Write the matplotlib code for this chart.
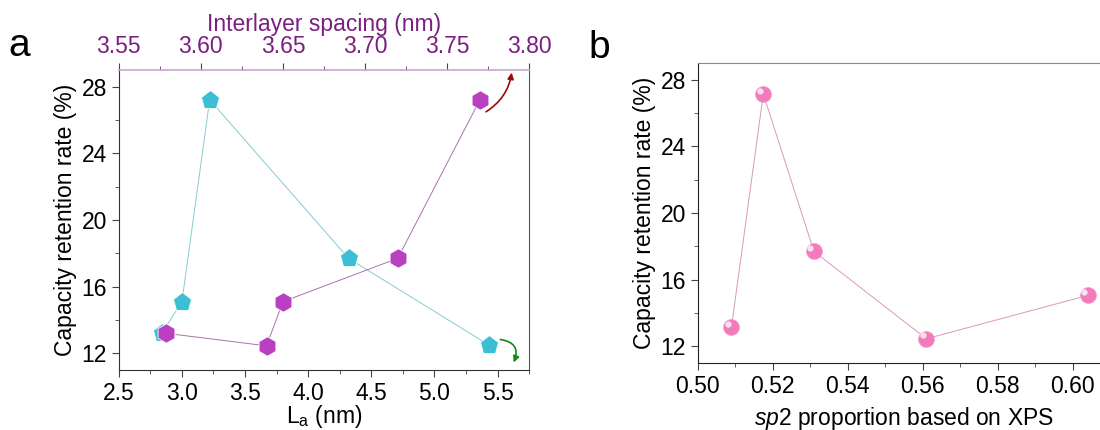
import numpy as np
import matplotlib
matplotlib.use("Agg")
import matplotlib.pyplot as plt
from matplotlib.ticker import MultipleLocator, FormatStrFormatter
from matplotlib.patches import FancyArrowPatch
from matplotlib.transforms import ScaledTranslation

plt.rcParams["font.family"] = ["Liberation Sans", "DejaVu Sans"]
plt.rcParams["mathtext.fontset"] = "custom"
plt.rcParams["mathtext.rm"] = "Liberation Sans"
plt.rcParams["mathtext.it"] = "Liberation Sans:italic"

# data
retention = [13.2, 15.1, 27.2, 17.7, 12.5]          # capacity retention rate (%)
la_nm = [2.84, 3.00, 3.22, 4.32, 5.43]               # L_a (nm), bottom axis
spacing_ret = [13.2, 12.45, 15.1, 17.7, 27.2]        # retention for spacing series
spacing_nm = [3.579, 3.640, 3.650, 3.720, 3.770]     # interlayer spacing (nm), top axis
sp2_frac = [0.509, 0.5175, 0.531, 0.561, 0.604]      # sp2 proportion
sp2_ret = [13.15, 27.15, 17.7, 12.45, 15.05]

# colours
cyan = '#3bbfd5'
cyan_line = '#86cbd2'
magenta = '#b940c1'
mag_line = '#a874ad'
purple_txt = '#7a1f80'
pink = '#f27cbb'
pink_line = '#dc98b6'

fig = plt.figure(figsize=(11, 4.3), dpi=100)
fs = 16.5

# ---- panel a
ax = fig.add_axes([0.108, 0.1395, 0.373, 0.698])
ax.plot(la_nm, retention, color=cyan_line, lw=0.7, zorder=2)
ax.plot(la_nm, retention, ls='none', marker='p', ms=14, color=cyan, mec='white', mew=0.6, zorder=3)
ax.set_xlim(2.5, 5.75)
ax.set_ylim(11, 29)
ax.xaxis.set_major_locator(MultipleLocator(0.5))
ax.xaxis.set_minor_locator(MultipleLocator(0.25))
ax.yaxis.set_major_locator(MultipleLocator(4))
ax.yaxis.set_minor_locator(MultipleLocator(2))
ax.tick_params(which='both', direction='out', labelsize=fs, top=False, right=False, color='#444444')
ax.tick_params(which='major', length=5)
ax.tick_params(which='minor', length=3)
ax.set_xlabel(r'L$_{\mathrm{a}}$ (nm)', fontsize=fs, labelpad=-1)
ax.set_ylabel('Capacity retention rate (%)', fontsize=fs, labelpad=3)
for s in ['left', 'bottom']:
    ax.spines[s].set_color('#333333')
ax.spines['right'].set_color('#555555')
ax.spines['top'].set_visible(False)

top = ax.twiny()
top.plot(spacing_nm, spacing_ret, color=mag_line, lw=0.7, zorder=2)
top.plot(spacing_nm, spacing_ret, ls='none', marker='h', ms=14, color=magenta, mec='white', mew=0.6, zorder=3)
top.set_xlim(3.55, 3.80)
top.xaxis.set_major_locator(MultipleLocator(0.05))
top.xaxis.set_minor_locator(MultipleLocator(0.025))
top.xaxis.set_major_formatter(FormatStrFormatter('%.2f'))
top.tick_params(axis='x', which='both', direction='out', labelsize=fs, colors=purple_txt)
top.tick_params(axis='x', which='major', length=5)
top.tick_params(axis='x', which='minor', length=3)
top.set_xlabel('Interlayer spacing (nm)', fontsize=fs, color=purple_txt, labelpad=3)
top.spines['top'].set_color('#c9a6cc')
top.spines['top'].set_linewidth(1.2)
for s in ['left', 'right', 'bottom']:
    top.spines[s].set_visible(False)

# direction arrows
red_arr = FancyArrowPatch((5.39, 26.4), (5.615, 29.0), transform=ax.transData,
                          connectionstyle='arc3,rad=0.25', arrowstyle='-|>',
                          mutation_scale=9, color='#9a0a0a', lw=1.2, clip_on=False, zorder=5)
ax.add_patch(red_arr)
green_arr = FancyArrowPatch((5.50, 12.85), (5.62, 11.3), transform=ax.transData,
                            connectionstyle='arc3,rad=-0.7', arrowstyle='-|>',
                            mutation_scale=9, color='#118a11', lw=1.2, clip_on=False, zorder=5)
ax.add_patch(green_arr)

fig.text(0.008, 0.87, 'a', fontsize=28)

# ---- panel b
bx = fig.add_axes([0.6343, 0.156, 0.3748, 0.697])
bx.plot(sp2_frac, sp2_ret, color=pink_line, lw=0.7, zorder=2)
bx.plot(sp2_frac, sp2_ret, ls='none', marker='o', ms=11.5, color=pink, mec='#f6a0cc', mew=0.5, zorder=3)
# small highlight for the sphere look
bx.plot(sp2_frac, sp2_ret, ls='none', marker='o', ms=3.5, color='#fde0f0', zorder=4,
        transform=bx.transData + ScaledTranslation(-2.5 / 72, 2.5 / 72, fig.dpi_scale_trans))
bx.set_xlim(0.5, 0.61)
bx.set_ylim(11, 29)
bx.xaxis.set_major_locator(MultipleLocator(0.02))
bx.xaxis.set_minor_locator(MultipleLocator(0.01))
bx.xaxis.set_major_formatter(FormatStrFormatter('%.2f'))
bx.yaxis.set_major_locator(MultipleLocator(4))
bx.yaxis.set_minor_locator(MultipleLocator(2))
bx.tick_params(which='both', direction='out', labelsize=fs, top=False, right=False, color='#444444')
bx.tick_params(which='major', length=5)
bx.tick_params(which='minor', length=3)
bx.set_xlabel(r'$\it{sp}$2 proportion based on XPS', fontsize=fs, labelpad=5)
bx.set_ylabel('Capacity retention rate (%)', fontsize=fs, labelpad=3)
for s in ['left', 'bottom']:
    bx.spines[s].set_color('#222222')
bx.spines['top'].set_color('#888888')
bx.spines['right'].set_visible(False)

fig.text(0.535, 0.865, 'b', fontsize=28)

fig.savefig('out.png', dpi=100)
